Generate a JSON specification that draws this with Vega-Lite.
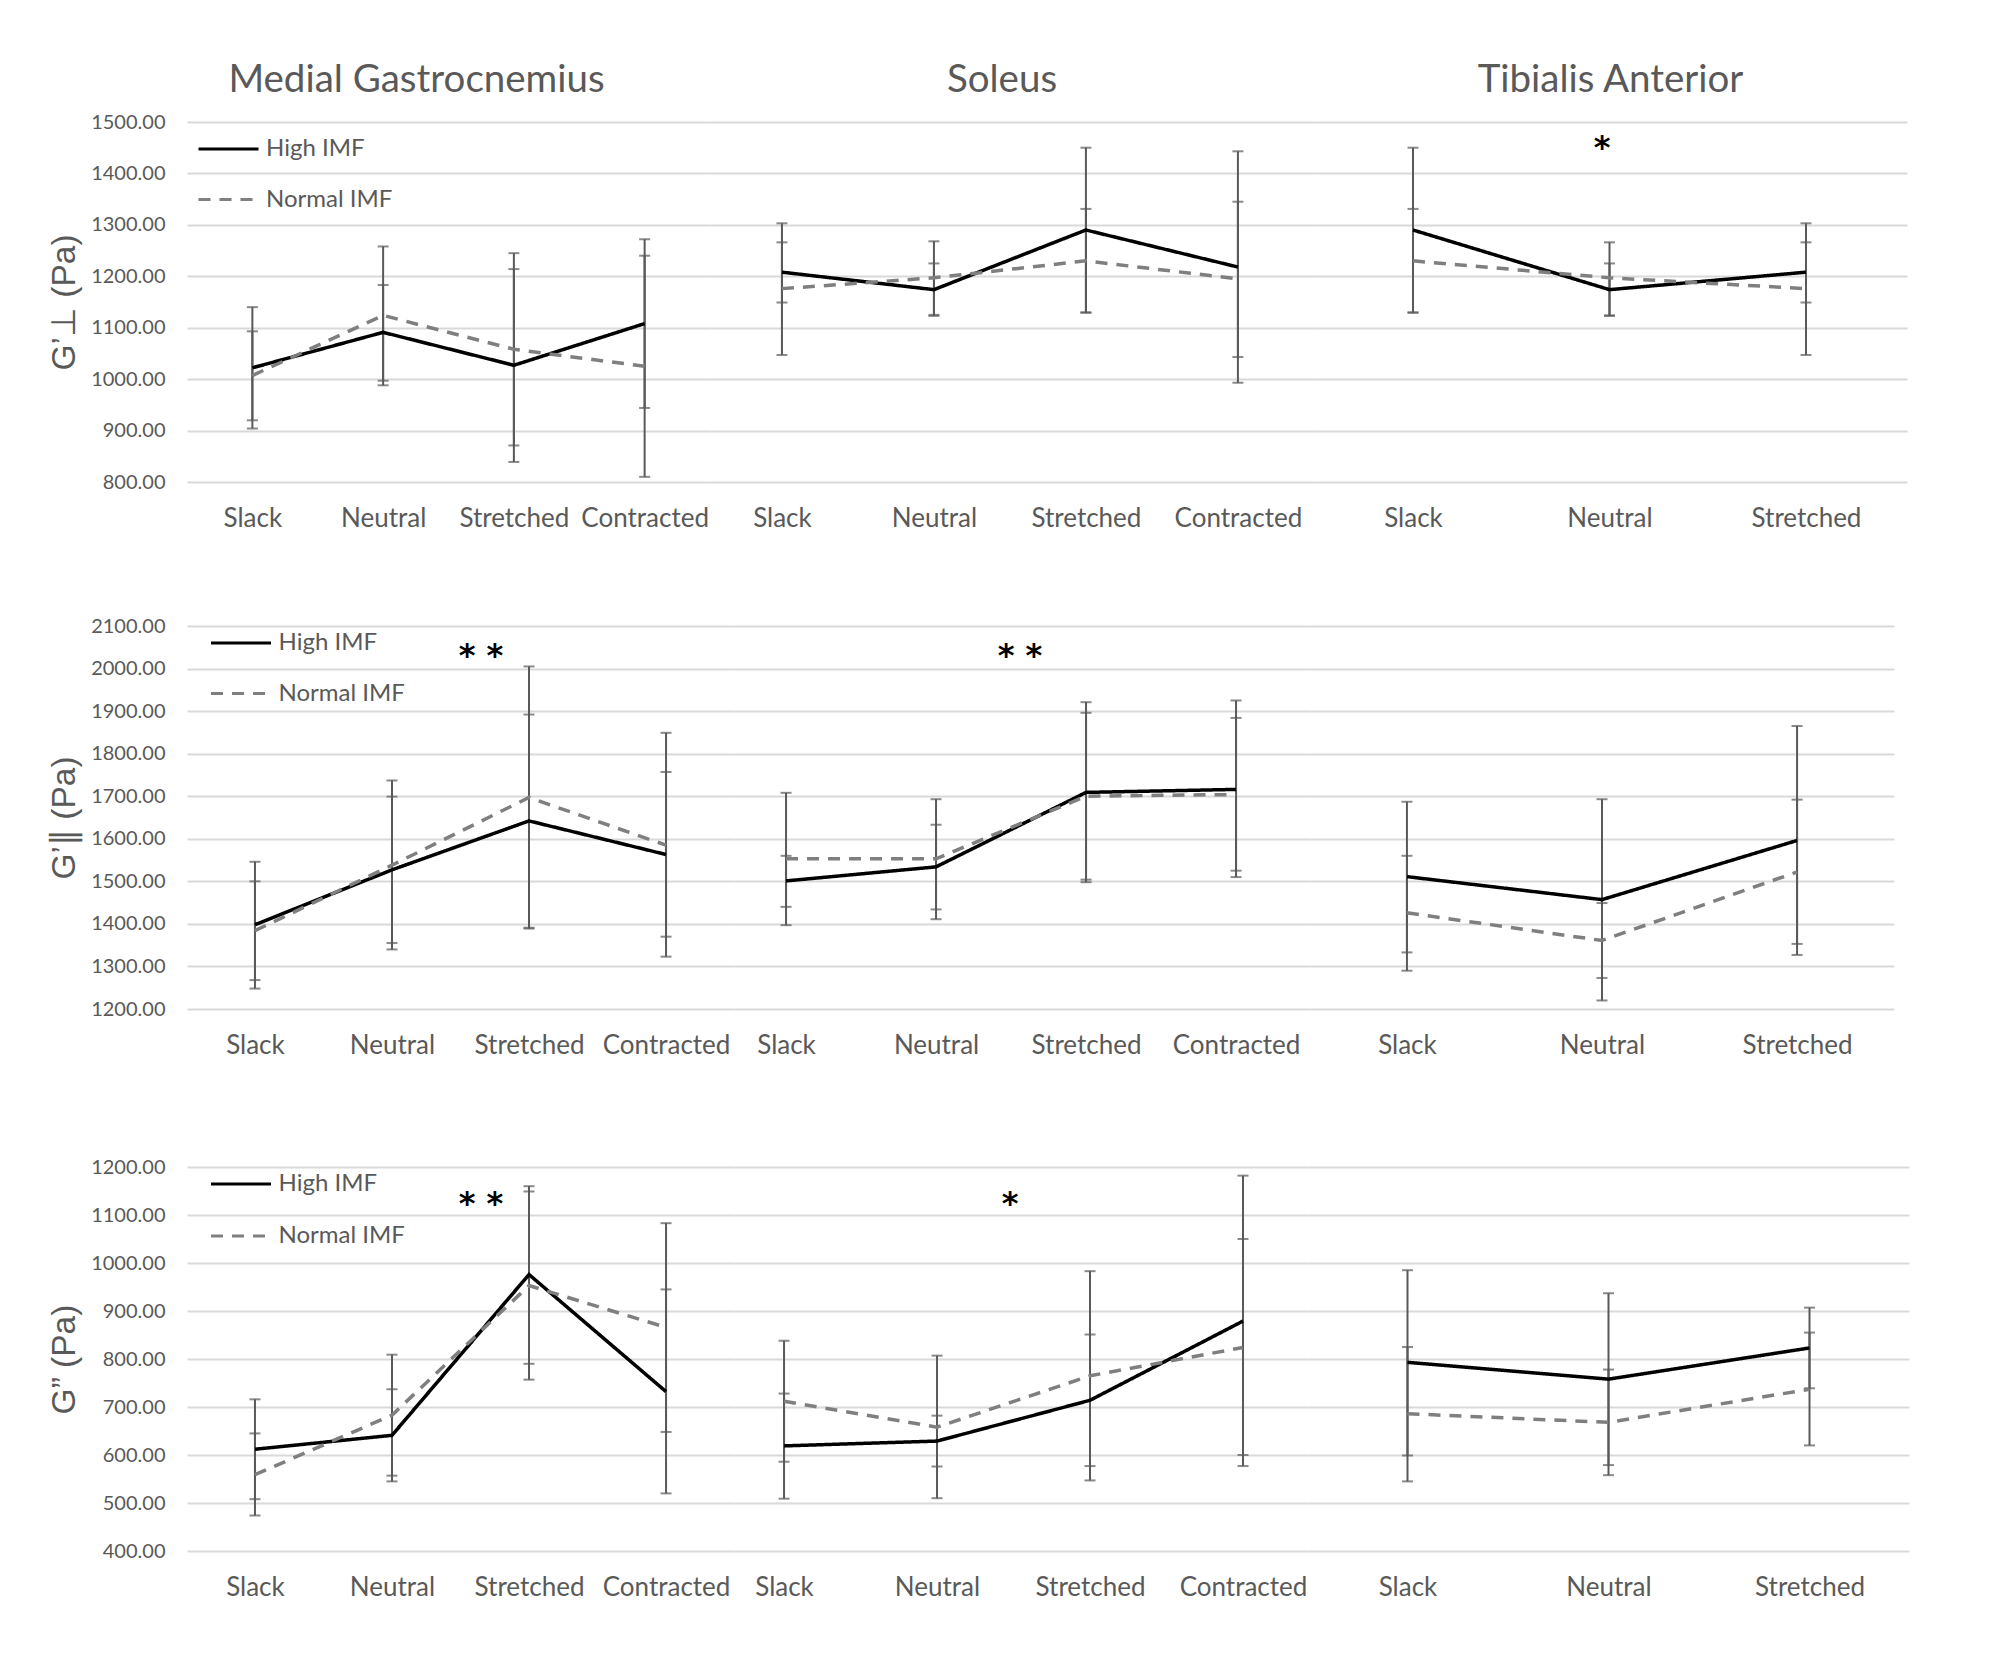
{
"$schema": "https://vega.github.io/schema/vega-lite/v6.json",
"background": "white",
"padding": {"left": 47, "top": 60, "right": 10, "bottom": 10},
"datasets": {
"main": [
{"row":"perp","muscle":"MG","position":"Slack","group":"High IMF","mean":1022,"lower":904,"upper":1140},
{"row":"perp","muscle":"MG","position":"Slack","group":"Normal IMF","mean":1007,"lower":920,"upper":1093},
{"row":"perp","muscle":"MG","position":"Neutral","group":"High IMF","mean":1091,"lower":997,"upper":1183},
{"row":"perp","muscle":"MG","position":"Neutral","group":"Normal IMF","mean":1124,"lower":988,"upper":1258},
{"row":"perp","muscle":"MG","position":"Stretched","group":"High IMF","mean":1027,"lower":839,"upper":1214},
{"row":"perp","muscle":"MG","position":"Stretched","group":"Normal IMF","mean":1058,"lower":871,"upper":1245},
{"row":"perp","muscle":"MG","position":"Contracted","group":"High IMF","mean":1108,"lower":944,"upper":1272},
{"row":"perp","muscle":"MG","position":"Contracted","group":"Normal IMF","mean":1025,"lower":810,"upper":1240},
{"row":"perp","muscle":"SOL","position":"Slack","group":"High IMF","mean":1208,"lower":1149,"upper":1266},
{"row":"perp","muscle":"SOL","position":"Slack","group":"Normal IMF","mean":1176,"lower":1047,"upper":1303},
{"row":"perp","muscle":"SOL","position":"Neutral","group":"High IMF","mean":1174,"lower":1123,"upper":1225},
{"row":"perp","muscle":"SOL","position":"Neutral","group":"Normal IMF","mean":1197,"lower":1125,"upper":1268},
{"row":"perp","muscle":"SOL","position":"Stretched","group":"High IMF","mean":1290,"lower":1130,"upper":1450},
{"row":"perp","muscle":"SOL","position":"Stretched","group":"Normal IMF","mean":1230,"lower":1129,"upper":1331},
{"row":"perp","muscle":"SOL","position":"Contracted","group":"High IMF","mean":1218,"lower":993,"upper":1443},
{"row":"perp","muscle":"SOL","position":"Contracted","group":"Normal IMF","mean":1195,"lower":1043,"upper":1345},
{"row":"perp","muscle":"TA","position":"Slack","group":"High IMF","mean":1290,"lower":1130,"upper":1450},
{"row":"perp","muscle":"TA","position":"Slack","group":"Normal IMF","mean":1230,"lower":1129,"upper":1331},
{"row":"perp","muscle":"TA","position":"Neutral","group":"High IMF","mean":1174,"lower":1123,"upper":1225},
{"row":"perp","muscle":"TA","position":"Neutral","group":"Normal IMF","mean":1197,"lower":1124,"upper":1266},
{"row":"perp","muscle":"TA","position":"Stretched","group":"High IMF","mean":1208,"lower":1149,"upper":1266},
{"row":"perp","muscle":"TA","position":"Stretched","group":"Normal IMF","mean":1176,"lower":1047,"upper":1303},
{"row":"par","muscle":"MG","position":"Slack","group":"High IMF","mean":1398,"lower":1248,"upper":1546},
{"row":"par","muscle":"MG","position":"Slack","group":"Normal IMF","mean":1384,"lower":1268,"upper":1500},
{"row":"par","muscle":"MG","position":"Neutral","group":"High IMF","mean":1527,"lower":1355,"upper":1699},
{"row":"par","muscle":"MG","position":"Neutral","group":"Normal IMF","mean":1538,"lower":1340,"upper":1737},
{"row":"par","muscle":"MG","position":"Stretched","group":"High IMF","mean":1642,"lower":1391,"upper":1892},
{"row":"par","muscle":"MG","position":"Stretched","group":"Normal IMF","mean":1697,"lower":1389,"upper":2005},
{"row":"par","muscle":"MG","position":"Contracted","group":"High IMF","mean":1563,"lower":1370,"upper":1757},
{"row":"par","muscle":"MG","position":"Contracted","group":"Normal IMF","mean":1585,"lower":1323,"upper":1849},
{"row":"par","muscle":"SOL","position":"Slack","group":"High IMF","mean":1501,"lower":1440,"upper":1560},
{"row":"par","muscle":"SOL","position":"Slack","group":"Normal IMF","mean":1553,"lower":1397,"upper":1708},
{"row":"par","muscle":"SOL","position":"Neutral","group":"High IMF","mean":1534,"lower":1434,"upper":1633},
{"row":"par","muscle":"SOL","position":"Neutral","group":"Normal IMF","mean":1553,"lower":1411,"upper":1693},
{"row":"par","muscle":"SOL","position":"Stretched","group":"High IMF","mean":1709,"lower":1498,"upper":1921},
{"row":"par","muscle":"SOL","position":"Stretched","group":"Normal IMF","mean":1700,"lower":1504,"upper":1896},
{"row":"par","muscle":"SOL","position":"Contracted","group":"High IMF","mean":1716,"lower":1510,"upper":1925},
{"row":"par","muscle":"SOL","position":"Contracted","group":"Normal IMF","mean":1704,"lower":1525,"upper":1884},
{"row":"par","muscle":"TA","position":"Slack","group":"High IMF","mean":1511,"lower":1333,"upper":1687},
{"row":"par","muscle":"TA","position":"Slack","group":"Normal IMF","mean":1426,"lower":1290,"upper":1560},
{"row":"par","muscle":"TA","position":"Neutral","group":"High IMF","mean":1457,"lower":1220,"upper":1693},
{"row":"par","muscle":"TA","position":"Neutral","group":"Normal IMF","mean":1361,"lower":1273,"upper":1449},
{"row":"par","muscle":"TA","position":"Stretched","group":"High IMF","mean":1596,"lower":1327,"upper":1865},
{"row":"par","muscle":"TA","position":"Stretched","group":"Normal IMF","mean":1522,"lower":1353,"upper":1692},
{"row":"loss","muscle":"MG","position":"Slack","group":"High IMF","mean":612,"lower":508,"upper":716},
{"row":"loss","muscle":"MG","position":"Slack","group":"Normal IMF","mean":559,"lower":474,"upper":645},
{"row":"loss","muscle":"MG","position":"Neutral","group":"High IMF","mean":641,"lower":545,"upper":737},
{"row":"loss","muscle":"MG","position":"Neutral","group":"Normal IMF","mean":683,"lower":557,"upper":809},
{"row":"loss","muscle":"MG","position":"Stretched","group":"High IMF","mean":976,"lower":790,"upper":1160},
{"row":"loss","muscle":"MG","position":"Stretched","group":"Normal IMF","mean":953,"lower":757,"upper":1149},
{"row":"loss","muscle":"MG","position":"Contracted","group":"High IMF","mean":732,"lower":520,"upper":945},
{"row":"loss","muscle":"MG","position":"Contracted","group":"Normal IMF","mean":866,"lower":648,"upper":1083},
{"row":"loss","muscle":"SOL","position":"Slack","group":"High IMF","mean":619,"lower":509,"upper":728},
{"row":"loss","muscle":"SOL","position":"Slack","group":"Normal IMF","mean":712,"lower":586,"upper":838},
{"row":"loss","muscle":"SOL","position":"Neutral","group":"High IMF","mean":629,"lower":576,"upper":682},
{"row":"loss","muscle":"SOL","position":"Neutral","group":"Normal IMF","mean":658,"lower":510,"upper":807},
{"row":"loss","muscle":"SOL","position":"Stretched","group":"High IMF","mean":714,"lower":577,"upper":851},
{"row":"loss","muscle":"SOL","position":"Stretched","group":"Normal IMF","mean":765,"lower":547,"upper":983},
{"row":"loss","muscle":"SOL","position":"Contracted","group":"High IMF","mean":879,"lower":577,"upper":1182},
{"row":"loss","muscle":"SOL","position":"Contracted","group":"Normal IMF","mean":824,"lower":600,"upper":1050},
{"row":"loss","muscle":"TA","position":"Slack","group":"High IMF","mean":793,"lower":599,"upper":985},
{"row":"loss","muscle":"TA","position":"Slack","group":"Normal IMF","mean":686,"lower":545,"upper":825},
{"row":"loss","muscle":"TA","position":"Neutral","group":"High IMF","mean":758,"lower":579,"upper":937},
{"row":"loss","muscle":"TA","position":"Neutral","group":"Normal IMF","mean":668,"lower":558,"upper":778},
{"row":"loss","muscle":"TA","position":"Stretched","group":"High IMF","mean":823,"lower":739,"upper":907},
{"row":"loss","muscle":"TA","position":"Stretched","group":"Normal IMF","mean":737,"lower":620,"upper":855}
],
"stars": [
{"row":"perp","muscle":"TA","position":"Neutral","y":1430,"label":"*"},
{"row":"par","muscle":"MG","position":"Stretched","y":2006,"label":"* *"},
{"row":"par","muscle":"SOL","position":"Stretched","y":2006,"label":"* *"},
{"row":"loss","muscle":"MG","position":"Stretched","y":1102,"label":"* *"},
{"row":"loss","muscle":"SOL","position":"Stretched","y":1102,"label":"*"}
]
},
"vconcat": [
{"vconcat": [
{"hconcat": [
{"width": 523, "height": 360, "title": {"text": "Medial Gastrocnemius", "dx": -32, "offset": 12},
"layer": [
{"data": {"name": "main"}, "transform": [{"filter": "datum.row==='perp' && datum.muscle==='MG'"}], "mark": {"type": "rule", "color": "#595959", "strokeWidth": 2},
"encoding": {"x": {"field": "position", "type": "nominal", "scale": {"type": "point", "domain": ["Slack","Neutral","Stretched","Contracted"], "padding": 0.5, "align": 0.5}, "axis": {"title": null, "domain": false, "ticks": false, "grid": false, "labelFont": "Lato", "labelFontSize": 26, "labelColor": "#595959", "labelPadding": 23, "labelAngle": 0, "labelLimit": 300}},
"y": {"field": "lower", "type": "quantitative", "scale": {"domain": [800, 1500], "nice": false, "zero": false}, "axis": {"title": "G’⊥ (Pa)", "titleFont": "Liberation Sans", "titleFontSize": 33.5, "titleFontWeight": "normal", "titleColor": "#595959", "titlePadding": 9, "values": [800,900,1000,1100,1200,1300,1400,1500], "format": ".2f", "labelFont": "Lato", "labelFontSize": 20, "labelColor": "#595959", "labelPadding": 22, "domain": false, "ticks": false, "grid": true, "gridColor": "#d9d9d9", "gridWidth": 2}},
"y2": {"field": "upper"}}},
{"data": {"name": "main"}, "transform": [{"filter": "datum.row==='perp' && datum.muscle==='MG'"}], "mark": {"type": "tick", "color": "#595959", "thickness": 2, "size": 11},
"encoding": {"x": {"field": "position", "type": "nominal"}, "y": {"field": "lower", "type": "quantitative"}}},
{"data": {"name": "main"}, "transform": [{"filter": "datum.row==='perp' && datum.muscle==='MG'"}], "mark": {"type": "tick", "color": "#595959", "thickness": 2, "size": 11},
"encoding": {"x": {"field": "position", "type": "nominal"}, "y": {"field": "upper", "type": "quantitative"}}},
{"data": {"name": "main"}, "transform": [{"filter": "datum.row==='perp' && datum.muscle==='MG'"}], "mark": {"type": "line", "strokeWidth": 3.5},
"encoding": {"x": {"field": "position", "type": "nominal"}, "y": {"field": "mean", "type": "quantitative"},
"color": {"field": "group", "type": "nominal", "scale": {"domain": ["High IMF","Normal IMF"], "range": ["#000000","#7f7f7f"]}, "legend": {"orient": "none", "legendX": 5.5, "legendY": 15, "title": null, "symbolType": "M-1,0H9", "symbolSize": 144, "symbolStrokeWidth": 3, "labelFont": "Lato", "labelFontSize": 24, "labelColor": "#595959", "labelOffset": 49.5, "rowPadding": 26.5, "padding": 0}},
"strokeDash": {"field": "group", "type": "nominal", "scale": {"domain": ["High IMF","Normal IMF"], "range": [[1,0],[12,9]]}, "legend": {"orient": "none", "legendX": 5.5, "legendY": 15, "title": null, "symbolType": "M-1,0H9", "symbolSize": 144, "symbolStrokeWidth": 3, "labelFont": "Lato", "labelFontSize": 24, "labelColor": "#595959", "labelOffset": 49.5, "rowPadding": 26.5, "padding": 0}}}}
]},
{"width": 604, "height": 360, "title": {"text": "Soleus", "dx": -10},
"layer": [
{"data": {"name": "main"}, "transform": [{"filter": "datum.row==='perp' && datum.muscle==='SOL'"}], "mark": {"type": "rule", "color": "#595959", "strokeWidth": 2},
"encoding": {"x": {"field": "position", "type": "nominal", "scale": {"type": "point", "domain": ["Slack","Neutral","Stretched","Contracted"], "padding": 0.487, "align": 0.486}, "axis": {"title": null, "domain": false, "ticks": false, "grid": false, "labelFont": "Lato", "labelFontSize": 26, "labelColor": "#595959", "labelPadding": 23, "labelAngle": 0, "labelLimit": 300}},
"y": {"field": "lower", "type": "quantitative", "scale": {"domain": [800, 1500], "nice": false, "zero": false}, "axis": {"title": null, "labels": false, "values": [800,900,1000,1100,1200,1300,1400,1500], "domain": false, "ticks": false, "grid": true, "gridColor": "#d9d9d9", "gridWidth": 2}},
"y2": {"field": "upper"}}},
{"data": {"name": "main"}, "transform": [{"filter": "datum.row==='perp' && datum.muscle==='SOL'"}], "mark": {"type": "tick", "color": "#595959", "thickness": 2, "size": 11},
"encoding": {"x": {"field": "position", "type": "nominal"}, "y": {"field": "lower", "type": "quantitative"}}},
{"data": {"name": "main"}, "transform": [{"filter": "datum.row==='perp' && datum.muscle==='SOL'"}], "mark": {"type": "tick", "color": "#595959", "thickness": 2, "size": 11},
"encoding": {"x": {"field": "position", "type": "nominal"}, "y": {"field": "upper", "type": "quantitative"}}},
{"data": {"name": "main"}, "transform": [{"filter": "datum.row==='perp' && datum.muscle==='SOL'"}], "mark": {"type": "line", "strokeWidth": 3.5},
"encoding": {"x": {"field": "position", "type": "nominal"}, "y": {"field": "mean", "type": "quantitative"},
"color": {"field": "group", "type": "nominal", "scale": {"domain": ["High IMF","Normal IMF"], "range": ["#000000","#7f7f7f"]}, "legend": null},
"strokeDash": {"field": "group", "type": "nominal", "scale": {"domain": ["High IMF","Normal IMF"], "range": [[1,0],[12,9]]}, "legend": null}}}
]},
{"width": 593, "height": 360, "title": {"text": "Tibialis Anterior"},
"layer": [
{"data": {"name": "main"}, "transform": [{"filter": "datum.row==='perp' && datum.muscle==='TA'"}], "mark": {"type": "rule", "color": "#595959", "strokeWidth": 2},
"encoding": {"x": {"field": "position", "type": "nominal", "scale": {"type": "point", "domain": ["Slack","Neutral","Stretched"], "padding": 0.509, "align": 0.495}, "axis": {"title": null, "domain": false, "ticks": false, "grid": false, "labelFont": "Lato", "labelFontSize": 26, "labelColor": "#595959", "labelPadding": 23, "labelAngle": 0, "labelLimit": 300}},
"y": {"field": "lower", "type": "quantitative", "scale": {"domain": [800, 1500], "nice": false, "zero": false}, "axis": {"title": null, "labels": false, "values": [800,900,1000,1100,1200,1300,1400,1500], "domain": false, "ticks": false, "grid": true, "gridColor": "#d9d9d9", "gridWidth": 2}},
"y2": {"field": "upper"}}},
{"data": {"name": "main"}, "transform": [{"filter": "datum.row==='perp' && datum.muscle==='TA'"}], "mark": {"type": "tick", "color": "#595959", "thickness": 2, "size": 11},
"encoding": {"x": {"field": "position", "type": "nominal"}, "y": {"field": "lower", "type": "quantitative"}}},
{"data": {"name": "main"}, "transform": [{"filter": "datum.row==='perp' && datum.muscle==='TA'"}], "mark": {"type": "tick", "color": "#595959", "thickness": 2, "size": 11},
"encoding": {"x": {"field": "position", "type": "nominal"}, "y": {"field": "upper", "type": "quantitative"}}},
{"data": {"name": "main"}, "transform": [{"filter": "datum.row==='perp' && datum.muscle==='TA'"}], "mark": {"type": "line", "strokeWidth": 3.5},
"encoding": {"x": {"field": "position", "type": "nominal"}, "y": {"field": "mean", "type": "quantitative"},
"color": {"field": "group", "type": "nominal", "scale": {"domain": ["High IMF","Normal IMF"], "range": ["#000000","#7f7f7f"]}, "legend": null},
"strokeDash": {"field": "group", "type": "nominal", "scale": {"domain": ["High IMF","Normal IMF"], "range": [[1,0],[12,9]]}, "legend": null}}},
{"data": {"name": "stars"}, "transform": [{"filter": "datum.row==='perp' && datum.muscle==='TA'"}], "mark": {"type": "text", "font": "DejaVu Sans", "fontSize": 32, "fontWeight": "bold", "color": "#000000", "baseline": "alphabetic", "dx": -7.5},
"encoding": {"x": {"field": "position", "type": "nominal"}, "y": {"field": "y", "type": "quantitative"}, "text": {"field": "label"}}}
]}
], "spacing": 0, "resolve": {"scale": {"color": "independent", "strokeDash": "independent"}, "legend": {"color": "independent", "strokeDash": "independent"}}},
{"hconcat": [
{"width": 547, "height": 383,
"layer": [
{"data": {"name": "main"}, "transform": [{"filter": "datum.row==='par' && datum.muscle==='MG'"}], "mark": {"type": "rule", "color": "#595959", "strokeWidth": 2},
"encoding": {"x": {"field": "position", "type": "nominal", "scale": {"type": "point", "domain": ["Slack","Neutral","Stretched","Contracted"], "padding": 0.496, "align": 0.5}, "axis": {"title": null, "domain": false, "ticks": false, "grid": false, "labelFont": "Lato", "labelFontSize": 26, "labelColor": "#595959", "labelPadding": 23, "labelAngle": 0, "labelLimit": 300}},
"y": {"field": "lower", "type": "quantitative", "scale": {"domain": [1200, 2100], "nice": false, "zero": false}, "axis": {"title": "G’∥ (Pa)", "titleFont": "Liberation Sans", "titleFontSize": 33.5, "titleFontWeight": "normal", "titleColor": "#595959", "titlePadding": 9, "values": [1200,1300,1400,1500,1600,1700,1800,1900,2000,2100], "format": ".2f", "labelFont": "Lato", "labelFontSize": 20, "labelColor": "#595959", "labelPadding": 22, "domain": false, "ticks": false, "grid": true, "gridColor": "#d9d9d9", "gridWidth": 2}},
"y2": {"field": "upper"}}},
{"data": {"name": "main"}, "transform": [{"filter": "datum.row==='par' && datum.muscle==='MG'"}], "mark": {"type": "tick", "color": "#595959", "thickness": 2, "size": 11},
"encoding": {"x": {"field": "position", "type": "nominal"}, "y": {"field": "lower", "type": "quantitative"}}},
{"data": {"name": "main"}, "transform": [{"filter": "datum.row==='par' && datum.muscle==='MG'"}], "mark": {"type": "tick", "color": "#595959", "thickness": 2, "size": 11},
"encoding": {"x": {"field": "position", "type": "nominal"}, "y": {"field": "upper", "type": "quantitative"}}},
{"data": {"name": "main"}, "transform": [{"filter": "datum.row==='par' && datum.muscle==='MG'"}], "mark": {"type": "line", "strokeWidth": 3.5},
"encoding": {"x": {"field": "position", "type": "nominal"}, "y": {"field": "mean", "type": "quantitative"},
"color": {"field": "group", "type": "nominal", "scale": {"domain": ["High IMF","Normal IMF"], "range": ["#000000","#7f7f7f"]}, "legend": {"orient": "none", "legendX": 18, "legendY": 5, "title": null, "symbolType": "M-1,0H9", "symbolSize": 144, "symbolStrokeWidth": 3, "labelFont": "Lato", "labelFontSize": 24, "labelColor": "#595959", "labelOffset": 49.5, "rowPadding": 26.5, "padding": 0}},
"strokeDash": {"field": "group", "type": "nominal", "scale": {"domain": ["High IMF","Normal IMF"], "range": [[1,0],[12,9]]}, "legend": {"orient": "none", "legendX": 18, "legendY": 5, "title": null, "symbolType": "M-1,0H9", "symbolSize": 144, "symbolStrokeWidth": 3, "labelFont": "Lato", "labelFontSize": 24, "labelColor": "#595959", "labelOffset": 49.5, "rowPadding": 26.5, "padding": 0}}}},
{"data": {"name": "stars"}, "transform": [{"filter": "datum.row==='par' && datum.muscle==='MG'"}], "mark": {"type": "text", "font": "DejaVu Sans", "fontSize": 32, "fontWeight": "bold", "color": "#000000", "baseline": "alphabetic", "dx": -48},
"encoding": {"x": {"field": "position", "type": "nominal"}, "y": {"field": "y", "type": "quantitative"}, "text": {"field": "label"}}}
]},
{"width": 576, "height": 383,
"layer": [
{"data": {"name": "main"}, "transform": [{"filter": "datum.row==='par' && datum.muscle==='SOL'"}], "mark": {"type": "rule", "color": "#595959", "strokeWidth": 2},
"encoding": {"x": {"field": "position", "type": "nominal", "scale": {"type": "point", "domain": ["Slack","Neutral","Stretched","Contracted"], "padding": 0.42, "align": 0.413}, "axis": {"title": null, "domain": false, "ticks": false, "grid": false, "labelFont": "Lato", "labelFontSize": 26, "labelColor": "#595959", "labelPadding": 23, "labelAngle": 0, "labelLimit": 300}},
"y": {"field": "lower", "type": "quantitative", "scale": {"domain": [1200, 2100], "nice": false, "zero": false}, "axis": {"title": null, "labels": false, "values": [1200,1300,1400,1500,1600,1700,1800,1900,2000,2100], "domain": false, "ticks": false, "grid": true, "gridColor": "#d9d9d9", "gridWidth": 2}},
"y2": {"field": "upper"}}},
{"data": {"name": "main"}, "transform": [{"filter": "datum.row==='par' && datum.muscle==='SOL'"}], "mark": {"type": "tick", "color": "#595959", "thickness": 2, "size": 11},
"encoding": {"x": {"field": "position", "type": "nominal"}, "y": {"field": "lower", "type": "quantitative"}}},
{"data": {"name": "main"}, "transform": [{"filter": "datum.row==='par' && datum.muscle==='SOL'"}], "mark": {"type": "tick", "color": "#595959", "thickness": 2, "size": 11},
"encoding": {"x": {"field": "position", "type": "nominal"}, "y": {"field": "upper", "type": "quantitative"}}},
{"data": {"name": "main"}, "transform": [{"filter": "datum.row==='par' && datum.muscle==='SOL'"}], "mark": {"type": "line", "strokeWidth": 3.5},
"encoding": {"x": {"field": "position", "type": "nominal"}, "y": {"field": "mean", "type": "quantitative"},
"color": {"field": "group", "type": "nominal", "scale": {"domain": ["High IMF","Normal IMF"], "range": ["#000000","#7f7f7f"]}, "legend": null},
"strokeDash": {"field": "group", "type": "nominal", "scale": {"domain": ["High IMF","Normal IMF"], "range": [[1,0],[12,9]]}, "legend": null}}},
{"data": {"name": "stars"}, "transform": [{"filter": "datum.row==='par' && datum.muscle==='SOL'"}], "mark": {"type": "text", "font": "DejaVu Sans", "fontSize": 32, "fontWeight": "bold", "color": "#000000", "baseline": "alphabetic", "dx": -66},
"encoding": {"x": {"field": "position", "type": "nominal"}, "y": {"field": "y", "type": "quantitative"}, "text": {"field": "label"}}}
]},
{"width": 584, "height": 383,
"layer": [
{"data": {"name": "main"}, "transform": [{"filter": "datum.row==='par' && datum.muscle==='TA'"}], "mark": {"type": "rule", "color": "#595959", "strokeWidth": 2},
"encoding": {"x": {"field": "position", "type": "nominal", "scale": {"type": "point", "domain": ["Slack","Neutral","Stretched"], "padding": 0.497, "align": 0.5}, "axis": {"title": null, "domain": false, "ticks": false, "grid": false, "labelFont": "Lato", "labelFontSize": 26, "labelColor": "#595959", "labelPadding": 23, "labelAngle": 0, "labelLimit": 300}},
"y": {"field": "lower", "type": "quantitative", "scale": {"domain": [1200, 2100], "nice": false, "zero": false}, "axis": {"title": null, "labels": false, "values": [1200,1300,1400,1500,1600,1700,1800,1900,2000,2100], "domain": false, "ticks": false, "grid": true, "gridColor": "#d9d9d9", "gridWidth": 2}},
"y2": {"field": "upper"}}},
{"data": {"name": "main"}, "transform": [{"filter": "datum.row==='par' && datum.muscle==='TA'"}], "mark": {"type": "tick", "color": "#595959", "thickness": 2, "size": 11},
"encoding": {"x": {"field": "position", "type": "nominal"}, "y": {"field": "lower", "type": "quantitative"}}},
{"data": {"name": "main"}, "transform": [{"filter": "datum.row==='par' && datum.muscle==='TA'"}], "mark": {"type": "tick", "color": "#595959", "thickness": 2, "size": 11},
"encoding": {"x": {"field": "position", "type": "nominal"}, "y": {"field": "upper", "type": "quantitative"}}},
{"data": {"name": "main"}, "transform": [{"filter": "datum.row==='par' && datum.muscle==='TA'"}], "mark": {"type": "line", "strokeWidth": 3.5},
"encoding": {"x": {"field": "position", "type": "nominal"}, "y": {"field": "mean", "type": "quantitative"},
"color": {"field": "group", "type": "nominal", "scale": {"domain": ["High IMF","Normal IMF"], "range": ["#000000","#7f7f7f"]}, "legend": null},
"strokeDash": {"field": "group", "type": "nominal", "scale": {"domain": ["High IMF","Normal IMF"], "range": [[1,0],[12,9]]}, "legend": null}}}
]}
], "spacing": 0, "resolve": {"scale": {"color": "independent", "strokeDash": "independent"}, "legend": {"color": "independent", "strokeDash": "independent"}}}
], "spacing": 85, "resolve": {"scale": {"color": "independent", "strokeDash": "independent"}, "legend": {"color": "independent", "strokeDash": "independent"}}},
{"hconcat": [
{"width": 547, "height": 384,
"layer": [
{"data": {"name": "main"}, "transform": [{"filter": "datum.row==='loss' && datum.muscle==='MG'"}], "mark": {"type": "rule", "color": "#595959", "strokeWidth": 2},
"encoding": {"x": {"field": "position", "type": "nominal", "scale": {"type": "point", "domain": ["Slack","Neutral","Stretched","Contracted"], "padding": 0.496, "align": 0.5}, "axis": {"title": null, "domain": false, "ticks": false, "grid": false, "labelFont": "Lato", "labelFontSize": 26, "labelColor": "#595959", "labelPadding": 23, "labelAngle": 0, "labelLimit": 300}},
"y": {"field": "lower", "type": "quantitative", "scale": {"domain": [400, 1200], "nice": false, "zero": false}, "axis": {"title": "G” (Pa)", "titleFont": "Liberation Sans", "titleFontSize": 33.5, "titleFontWeight": "normal", "titleColor": "#595959", "titlePadding": 9, "values": [400,500,600,700,800,900,1000,1100,1200], "format": ".2f", "labelFont": "Lato", "labelFontSize": 20, "labelColor": "#595959", "labelPadding": 22, "domain": false, "ticks": false, "grid": true, "gridColor": "#d9d9d9", "gridWidth": 2}},
"y2": {"field": "upper"}}},
{"data": {"name": "main"}, "transform": [{"filter": "datum.row==='loss' && datum.muscle==='MG'"}], "mark": {"type": "tick", "color": "#595959", "thickness": 2, "size": 11},
"encoding": {"x": {"field": "position", "type": "nominal"}, "y": {"field": "lower", "type": "quantitative"}}},
{"data": {"name": "main"}, "transform": [{"filter": "datum.row==='loss' && datum.muscle==='MG'"}], "mark": {"type": "tick", "color": "#595959", "thickness": 2, "size": 11},
"encoding": {"x": {"field": "position", "type": "nominal"}, "y": {"field": "upper", "type": "quantitative"}}},
{"data": {"name": "main"}, "transform": [{"filter": "datum.row==='loss' && datum.muscle==='MG'"}], "mark": {"type": "line", "strokeWidth": 3.5},
"encoding": {"x": {"field": "position", "type": "nominal"}, "y": {"field": "mean", "type": "quantitative"},
"color": {"field": "group", "type": "nominal", "scale": {"domain": ["High IMF","Normal IMF"], "range": ["#000000","#7f7f7f"]}, "legend": {"orient": "none", "legendX": 18, "legendY": 5, "title": null, "symbolType": "M-1,0H9", "symbolSize": 144, "symbolStrokeWidth": 3, "labelFont": "Lato", "labelFontSize": 24, "labelColor": "#595959", "labelOffset": 49.5, "rowPadding": 28, "padding": 0}},
"strokeDash": {"field": "group", "type": "nominal", "scale": {"domain": ["High IMF","Normal IMF"], "range": [[1,0],[12,9]]}, "legend": {"orient": "none", "legendX": 18, "legendY": 5, "title": null, "symbolType": "M-1,0H9", "symbolSize": 144, "symbolStrokeWidth": 3, "labelFont": "Lato", "labelFontSize": 24, "labelColor": "#595959", "labelOffset": 49.5, "rowPadding": 28, "padding": 0}}}},
{"data": {"name": "stars"}, "transform": [{"filter": "datum.row==='loss' && datum.muscle==='MG'"}], "mark": {"type": "text", "font": "DejaVu Sans", "fontSize": 32, "fontWeight": "bold", "color": "#000000", "baseline": "alphabetic", "dx": -48},
"encoding": {"x": {"field": "position", "type": "nominal"}, "y": {"field": "y", "type": "quantitative"}, "text": {"field": "label"}}}
]},
{"width": 574, "height": 384,
"layer": [
{"data": {"name": "main"}, "transform": [{"filter": "datum.row==='loss' && datum.muscle==='SOL'"}], "mark": {"type": "rule", "color": "#595959", "strokeWidth": 2},
"encoding": {"x": {"field": "position", "type": "nominal", "scale": {"type": "point", "domain": ["Slack","Neutral","Stretched","Contracted"], "padding": 0.376, "align": 0.435}, "axis": {"title": null, "domain": false, "ticks": false, "grid": false, "labelFont": "Lato", "labelFontSize": 26, "labelColor": "#595959", "labelPadding": 23, "labelAngle": 0, "labelLimit": 300}},
"y": {"field": "lower", "type": "quantitative", "scale": {"domain": [400, 1200], "nice": false, "zero": false}, "axis": {"title": null, "labels": false, "values": [400,500,600,700,800,900,1000,1100,1200], "domain": false, "ticks": false, "grid": true, "gridColor": "#d9d9d9", "gridWidth": 2}},
"y2": {"field": "upper"}}},
{"data": {"name": "main"}, "transform": [{"filter": "datum.row==='loss' && datum.muscle==='SOL'"}], "mark": {"type": "tick", "color": "#595959", "thickness": 2, "size": 11},
"encoding": {"x": {"field": "position", "type": "nominal"}, "y": {"field": "lower", "type": "quantitative"}}},
{"data": {"name": "main"}, "transform": [{"filter": "datum.row==='loss' && datum.muscle==='SOL'"}], "mark": {"type": "tick", "color": "#595959", "thickness": 2, "size": 11},
"encoding": {"x": {"field": "position", "type": "nominal"}, "y": {"field": "upper", "type": "quantitative"}}},
{"data": {"name": "main"}, "transform": [{"filter": "datum.row==='loss' && datum.muscle==='SOL'"}], "mark": {"type": "line", "strokeWidth": 3.5},
"encoding": {"x": {"field": "position", "type": "nominal"}, "y": {"field": "mean", "type": "quantitative"},
"color": {"field": "group", "type": "nominal", "scale": {"domain": ["High IMF","Normal IMF"], "range": ["#000000","#7f7f7f"]}, "legend": null},
"strokeDash": {"field": "group", "type": "nominal", "scale": {"domain": ["High IMF","Normal IMF"], "range": [[1,0],[12,9]]}, "legend": null}}},
{"data": {"name": "stars"}, "transform": [{"filter": "datum.row==='loss' && datum.muscle==='SOL'"}], "mark": {"type": "text", "font": "DejaVu Sans", "fontSize": 32, "fontWeight": "bold", "color": "#000000", "baseline": "alphabetic", "dx": -80},
"encoding": {"x": {"field": "position", "type": "nominal"}, "y": {"field": "y", "type": "quantitative"}, "text": {"field": "label"}}}
]},
{"width": 601, "height": 384,
"layer": [
{"data": {"name": "main"}, "transform": [{"filter": "datum.row==='loss' && datum.muscle==='TA'"}], "mark": {"type": "rule", "color": "#595959", "strokeWidth": 2},
"encoding": {"x": {"field": "position", "type": "nominal", "scale": {"type": "point", "domain": ["Slack","Neutral","Stretched"], "padding": 0.495, "align": 0.5}, "axis": {"title": null, "domain": false, "ticks": false, "grid": false, "labelFont": "Lato", "labelFontSize": 26, "labelColor": "#595959", "labelPadding": 23, "labelAngle": 0, "labelLimit": 300}},
"y": {"field": "lower", "type": "quantitative", "scale": {"domain": [400, 1200], "nice": false, "zero": false}, "axis": {"title": null, "labels": false, "values": [400,500,600,700,800,900,1000,1100,1200], "domain": false, "ticks": false, "grid": true, "gridColor": "#d9d9d9", "gridWidth": 2}},
"y2": {"field": "upper"}}},
{"data": {"name": "main"}, "transform": [{"filter": "datum.row==='loss' && datum.muscle==='TA'"}], "mark": {"type": "tick", "color": "#595959", "thickness": 2, "size": 11},
"encoding": {"x": {"field": "position", "type": "nominal"}, "y": {"field": "lower", "type": "quantitative"}}},
{"data": {"name": "main"}, "transform": [{"filter": "datum.row==='loss' && datum.muscle==='TA'"}], "mark": {"type": "tick", "color": "#595959", "thickness": 2, "size": 11},
"encoding": {"x": {"field": "position", "type": "nominal"}, "y": {"field": "upper", "type": "quantitative"}}},
{"data": {"name": "main"}, "transform": [{"filter": "datum.row==='loss' && datum.muscle==='TA'"}], "mark": {"type": "line", "strokeWidth": 3.5},
"encoding": {"x": {"field": "position", "type": "nominal"}, "y": {"field": "mean", "type": "quantitative"},
"color": {"field": "group", "type": "nominal", "scale": {"domain": ["High IMF","Normal IMF"], "range": ["#000000","#7f7f7f"]}, "legend": null},
"strokeDash": {"field": "group", "type": "nominal", "scale": {"domain": ["High IMF","Normal IMF"], "range": [[1,0],[12,9]]}, "legend": null}}}
]}
], "spacing": 0, "resolve": {"scale": {"color": "independent", "strokeDash": "independent"}, "legend": {"color": "independent", "strokeDash": "independent"}}}
],
"spacing": 99,
"resolve": {"scale": {"color": "independent", "strokeDash": "independent"}, "legend": {"color": "independent", "strokeDash": "independent"}},
"config": {
"view": {"stroke": null},
"font": "Lato",
"title": {"font": "Lato", "fontSize": 38.5, "color": "#595959", "fontWeight": "normal", "offset": 22, "anchor": "middle"}
}
}
